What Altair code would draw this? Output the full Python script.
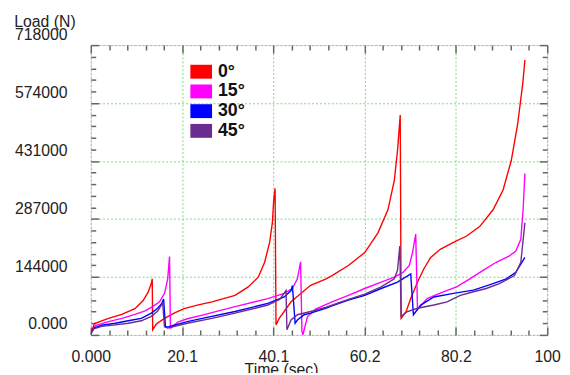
import altair as alt
import pandas as pd

# ---- data ----
series_names = ["0°", "15°", "30°", "45°"]
series_colors = ["#ff0000", "#ff00ff", "#0000ff", "#6a2c91"]

t_0 = [0, 0.8, 3.9, 6.8, 9.7, 11.5, 12.6, 13.3, 13.5, 13.6, 14.4, 16.2, 18.3, 20.5, 23.4, 26.6,
       31.7, 34.6, 36.8, 38.2, 39.3, 39.9, 40.2, 40.5, 40.7, 41.4, 42.5, 44.0, 46.1, 48.3, 51.6,
       53.0, 56.6, 60.2, 63.1, 65.3, 66.7, 67.4, 68.0, 68.2, 69.3, 70.3, 71.8, 73.2, 74.7, 76.8,
       79.7, 82.6, 85.5, 88.4, 90.6, 92.4, 93.8, 94.9, 95.4]
load_0 = [3000, 28000, 41000, 51000, 65000, 85000, 106000, 128000, 139000, 13000, 27000, 41000,
          54000, 65000, 74000, 82000, 98000, 119000, 143000, 180000, 229000, 278000, 335000, 363000,
          25000, 41000, 58000, 82000, 102000, 123000, 138000, 147000, 172000, 204000, 253000, 310000,
          383000, 457000, 545000, 41000, 58000, 90000, 131000, 164000, 192000, 212000, 229000, 245000,
          269000, 310000, 359000, 432000, 522000, 620000, 681000]

t_15 = [0, 1.0, 3.9, 6.8, 9.7, 11.8, 13.6, 15.1, 16.2, 16.9, 17.3, 17.5, 18.0, 19.1, 21.2, 24.5,
        31.7, 38.9, 42.5, 44.3, 45.4, 46.1, 46.4, 46.6, 47.6, 49.4, 53.0, 56.6, 60.2, 63.8, 66.7,
        68.6, 70.0, 70.7, 71.4, 71.8, 73.9, 77.6, 80.4, 83.3, 86.2, 89.1, 92.0, 93.4, 94.5, 95.0, 95.4]
load_15 = [3000, 23000, 33000, 41000, 51000, 59000, 70000, 82000, 103000, 139000, 194000, 17000,
           21000, 32000, 40000, 49000, 70000, 90000, 103000, 115000, 139000, 181000, 9000, 0, 45000,
           64000, 82000, 98000, 115000, 131000, 143000, 155000, 172000, 204000, 250000, 63000, 90000,
           107000, 119000, 139000, 160000, 180000, 196000, 208000, 237000, 310000, 400000]

t_30 = [0, 0.65, 2.4, 5.4, 8.2, 11.1, 13.3, 14.7, 15.6, 16.0, 16.4, 16.9, 18.3, 21.2, 24.5, 31.7,
        38.9, 42.5, 44.0, 44.3, 44.9, 45.4, 46.9, 48.3, 51.6, 53.0, 56.6, 60.2, 63.8, 67.4, 70.3,
        70.9, 72.5, 75.4, 79.7, 84.1, 88.4, 91.3, 93.4, 95.4]
load_30 = [3000, 17000, 24000, 29000, 35000, 41000, 54000, 66000, 78000, 89000, 21000, 19000, 24000,
           33000, 41000, 58000, 78000, 94000, 110000, 122000, 29000, 37000, 50000, 54000, 66000,
           72000, 86000, 98000, 115000, 131000, 151000, 50000, 74000, 94000, 103000, 111000, 127000,
           139000, 155000, 192000]

t_45 = [0, 0.65, 2.4, 5.4, 8.2, 11.1, 13.3, 14.7, 15.4, 15.8, 16.2, 16.9, 21.2, 26.6, 31.7, 38.9,
        41.5, 42.9, 43.1, 44.0, 45.4, 48.3, 51.6, 56.6, 60.2, 63.8, 66.7, 67.4, 67.9, 68.2, 69.6,
        71.8, 75.4, 78.3, 81.2, 84.1, 86.9, 89.8, 93.1, 94.5, 95.4]
load_45 = [3000, 15000, 21000, 25000, 29000, 35000, 46000, 59000, 72000, 78000, 20000, 17000, 29000,
           41000, 54000, 74000, 88000, 110000, 13000, 37000, 50000, 58000, 68000, 88000, 101000,
           119000, 139000, 160000, 220000, 46000, 58000, 66000, 74000, 82000, 98000, 107000, 115000,
           127000, 147000, 180000, 278000]

x_major = [0, 20.06, 40.12, 60.18, 80.24, 100.3]
x_tick_labels = ["0.000", "20.1", "40.1", "60.2", "80.2", "100"]
y_major = [0, 143600, 287200, 430800, 574400, 718000]
y_tick_labels = ["0.000", "144000", "287000", "431000", "574000", "718000"]

x_minor = [a + (b - a) * k / 5 for a, b in zip(x_major[:-1], x_major[1:]) for k in range(1, 5)]
y_minor = [a + (b - a) * k / 5 for a, b in zip(y_major[:-1], y_major[1:]) for k in range(1, 5)]

rows = []
for name, ts, ls in zip(series_names, [t_0, t_15, t_30, t_45], [load_0, load_15, load_30, load_45]):
    for i, (t, l) in enumerate(zip(ts, ls)):
        rows.append({"series": name, "t": t, "load": l, "order": i})
df = pd.DataFrame(rows)

FONT = "Liberation Sans"
W, H = 463, 294
RECT = "M-1,-0.64H1V0.64H-1Z"

xscale = alt.Scale(domain=[0, 100.3], nice=False, zero=False)
yscale = alt.Scale(domain=[0, 718000], nice=False, zero=False)

x_lab_expr = "%s[round(datum.value / 20.06)]" % str(x_tick_labels)
y_lab_expr = "%s[round(datum.value / 143600)]" % str(y_tick_labels)

common = dict(domain=False, tickColor="#666666", tickWidth=1.5, labelFont=FONT,
              titleFont=FONT)

lines = alt.Chart(df).mark_line(strokeWidth=1.4, clip=True).encode(
    x=alt.X("t:Q", scale=xscale, axis=alt.Axis(
        orient="bottom", values=x_major, tickSize=8, offset=-8, labelPadding=14,
        labelExpr=x_lab_expr, labelFontSize=16, labelColor="#222222", labelFlush=False,
        labelOverlap=False,
        grid=True, gridColor="#77dd77", gridDash=[2, 2], gridWidth=1,
        title="Time (sec)", titleFontSize=16, titleFontWeight="normal", titleColor="#222222",
        titleX=193, titleY=43, titleAnchor="start", titleAlign="center", titleBaseline="middle",
        **common)),
    y=alt.Y("load:Q", scale=yscale, axis=alt.Axis(
        orient="left", values=y_major, tickSize=8, offset=-8, labelPadding=24,
        labelExpr=y_lab_expr, labelFontSize=16, labelColor="#222222", labelOffset=-11,
        labelFlush=False, labelOverlap=False,
        grid=True, gridColor="#77dd77", gridDash=[2, 2], gridWidth=1,
        title="Load (N)", titleFontSize=16, titleFontWeight="normal", titleColor="#222222",
        titleAngle=0, titleX=-55, titleY=-24, titleAlign="center", titleBaseline="middle",
        **common)),
    # reversed domain order so this (legend-less) scale is not merged with the legend's scale
    stroke=alt.Stroke("series:N",
                      scale=alt.Scale(domain=series_names[::-1], range=series_colors[::-1]),
                      legend=None),
    order="order:Q",
)

legend_layer = alt.Chart(df).transform_filter("datum.t < 0").mark_point(
    filled=True, shape=RECT, size=484, opacity=1
).encode(
    x=alt.X("t:Q", scale=xscale, axis=None),
    y=alt.Y("load:Q", scale=yscale, axis=None),
    fill=alt.Fill("series:N", scale=alt.Scale(domain=series_names, range=series_colors),
                  legend=alt.Legend(
                      title=None, orient="none", legendX=101, legendY=16,
                      symbolType=RECT, symbolSize=484, symbolStrokeWidth=0, symbolOpacity=1,
                      labelFont=FONT, labelFontSize=18, labelFontWeight="bold",
                      labelColor="#111111", labelOffset=6, rowPadding=-1, padding=0)),
)


def tick_layer(xorient, yorient, xvals, yvals, size):
    return alt.Chart(df).mark_line(opacity=0).encode(
        x=alt.X("t:Q", scale=xscale, axis=alt.Axis(
            orient=xorient, values=xvals, tickSize=size, offset=-size, labels=False,
            grid=False, title=None, **common)),
        y=alt.Y("load:Q", scale=yscale, axis=alt.Axis(
            orient=yorient, values=yvals, tickSize=size, offset=-size, labels=False,
            grid=False, title=None, **common)),
        detail="series:N",
    )


chart = alt.layer(
    lines,
    legend_layer,
    tick_layer("bottom", "left", x_minor, y_minor, 5),
    tick_layer("top", "right", x_major, y_major, 8),
    tick_layer("top", "right", x_minor, y_minor, 5),
).resolve_axis(x="independent", y="independent").properties(
    width=W, height=H,
    autosize=alt.AutoSizeParams(type="none"),
    padding={"left": 84, "top": 35, "right": 15, "bottom": 36},
).configure_view(stroke="#555555", strokeWidth=2).configure(background="white")

chart.save("out.html", embed_options={"renderer": "svg", "actions": False})
